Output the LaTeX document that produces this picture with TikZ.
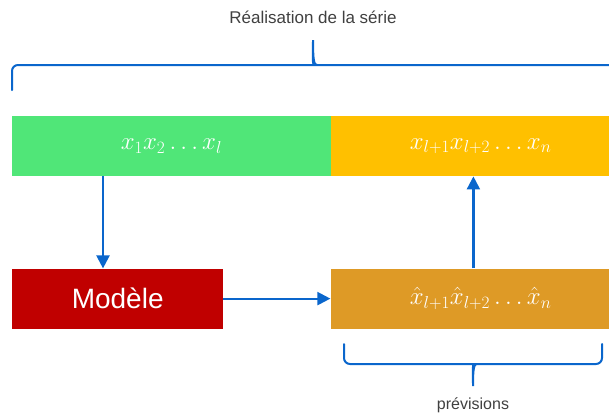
\documentclass[tikz,border=0pt]{standalone}
\usepackage[no-math]{fontspec}
\setmainfont{Liberation Sans}
\usepackage{tikz}
\usetikzlibrary{arrows.meta, positioning}

\definecolor{knownGreen}{HTML}{50E678}
\definecolor{futureYellow}{HTML}{FFC000}
\definecolor{modelRed}{HTML}{C00000}
\definecolor{hatOrange}{HTML}{DE9A26}
\definecolor{flowBlue}{HTML}{0A66CC}
\definecolor{labelGray}{HTML}{404040}

\begin{document}
\begin{tikzpicture}[x=1pt, y=-1pt,
	box/.style={minimum height=60pt, inner sep=0pt, text=white, anchor=north west},
	flow/.style={-{Triangle[width=13pt,length=13pt]}, line width=2.2pt, draw=flowBlue},
	brace/.style={line width=2pt, draw=flowBlue, line cap=round},
	caption/.style={text=labelGray, inner sep=0pt}]
		
		\useasboundingbox (0,0) rectangle (609,416);
		
		\node[box, fill=knownGreen, minimum width=318.5pt] (known) at (12,116) {\fontsize{24}{28}\selectfont $x_1x_2\ldots x_l$};
		\node[box, fill=futureYellow, minimum width=300pt, right=-0.5pt of known] (future) {\fontsize{24}{28}\selectfont $x_{l+1}x_{l+2}\ldots x_n$};
		\node[box, fill=modelRed, minimum width=211pt, below=92pt of known.south west, anchor=north west] (model) {\fontsize{28}{32}\selectfont Modèle};
		\node[box, fill=hatOrange, minimum width=300pt, below=92pt of future.south west, anchor=north west] (hat) {\fontsize{24}{28}\selectfont $\hat{x}_{l+1}\hat{x}_{l+2}\ldots\hat{x}_n$};
		
		\node[caption] (serie) at (313,17) {\fontsize{17}{20}\selectfont Réalisation de la série};
		\node[caption] (prev) at (473,405) {\fontsize{16}{19}\selectfont prévisions};
		
		% Edges
		\draw[flow] ([xshift=91pt]known.south west) -- ([xshift=91pt]model.north west);
		\draw[flow] (model.east) -- (hat.west);
		\draw[flow] ([xshift=143pt]hat.north west) -- ([xshift=143pt]future.south west);
		
		% Braces
		\draw[brace] (12,90) [rounded corners=6pt] -- (12,65) -- (309,65) [sharp corners]
			.. controls (312,65) and (313,60) .. (313,40)
			.. controls (313,60) and (314,65) .. (317,65) [rounded corners=6pt] -- (614,65) -- (614,90);
		\draw[brace] (344,344) [rounded corners=6pt] -- (344,364) -- (469,364) [sharp corners]
			.. controls (472,364) and (473,368) .. (473,386)
			.. controls (473,368) and (474,364) .. (477,364) [rounded corners=6pt] -- (602,364) -- (602,344);
		
	\end{tikzpicture}
\end{document}
